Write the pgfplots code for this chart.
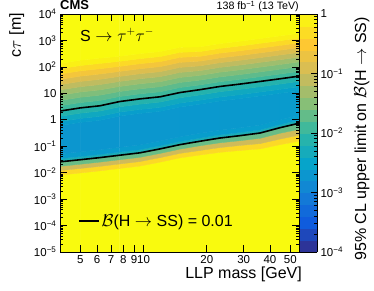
\documentclass[border=0pt]{standalone}
\usepackage{fontspec}
\setmainfont{Liberation Sans}
\usepackage{pgfplots}
\pgfplotsset{compat=1.18}
% Limit map: m = LLP mass [GeV], lct = log10(c tau / m), v = log10(95% CL limit on B(H->SS))
\pgfplotstableread{
m lct v
4.0 -5 0
4.0 -2.09 0
4.0 -1.92 -0.67
4.0 -1.76 -1.33
4.0 -1.59 -2
4.0 -1.47 -2.5
4.0 -1.29 -2.72
4.0 -0.22 -2.68
4.0 -0.07 -2.5
4.0 0.13 -2.25
4.0 0.33 -2
4.0 0.53 -1.82
4.0 0.73 -1.64
4.0 0.93 -1.45
4.0 1.13 -1.24
4.0 1.33 -1.00
4.0 1.53 -0.74
4.0 1.73 -0.47
4.0 1.93 -0.20
4.0 2.13 0
4.0 4 0
5.0 -5 0
5.0 -2.01 0
5.0 -1.84 -0.67
5.0 -1.68 -1.33
5.0 -1.51 -2
5.0 -1.39 -2.5
5.0 -1.21 -2.72
5.0 -0.10 -2.68
5.0 0.05 -2.5
5.0 0.25 -2.25
5.0 0.45 -2
5.0 0.65 -1.82
5.0 0.85 -1.64
5.0 1.05 -1.45
5.0 1.25 -1.24
5.0 1.45 -1.00
5.0 1.65 -0.74
5.0 1.85 -0.47
5.0 2.05 -0.20
5.0 2.25 0
5.0 4 0
6.2 -5 0
6.2 -1.93 0
6.2 -1.76 -0.67
6.2 -1.60 -1.33
6.2 -1.43 -2
6.2 -1.31 -2.5
6.2 -1.13 -2.71
6.2 -0.02 -2.67
6.2 0.13 -2.5
6.2 0.33 -2.25
6.2 0.53 -2
6.2 0.73 -1.82
6.2 0.93 -1.64
6.2 1.13 -1.45
6.2 1.33 -1.24
6.2 1.53 -1.00
6.2 1.73 -0.74
6.2 1.93 -0.47
6.2 2.13 -0.20
6.2 2.33 0
6.2 4 0
7.7 -5 0
7.7 -1.84 0
7.7 -1.67 -0.67
7.7 -1.51 -1.33
7.7 -1.34 -2
7.7 -1.22 -2.5
7.7 -1.04 -2.71
7.7 0.14 -2.67
7.7 0.29 -2.5
7.7 0.49 -2.25
7.7 0.69 -2
7.7 0.88 -1.82
7.7 1.07 -1.64
7.7 1.26 -1.45
7.7 1.45 -1.24
7.7 1.64 -1.00
7.7 1.83 -0.74
7.7 2.02 -0.47
7.7 2.21 -0.20
7.7 2.40 0
7.7 4 0
9.6 -5 0
9.6 -1.75 0
9.6 -1.58 -0.67
9.6 -1.42 -1.33
9.6 -1.25 -2
9.6 -1.13 -2.5
9.6 -0.95 -2.70
9.6 0.24 -2.66
9.6 0.39 -2.5
9.6 0.59 -2.25
9.6 0.79 -2
9.6 0.98 -1.82
9.6 1.17 -1.64
9.6 1.36 -1.45
9.6 1.55 -1.24
9.6 1.74 -1.00
9.6 1.93 -0.74
9.6 2.12 -0.47
9.6 2.31 -0.20
9.6 2.50 0
9.6 4 0
12.0 -5 0
12.0 -1.60 0
12.0 -1.43 -0.67
12.0 -1.27 -1.33
12.0 -1.10 -2
12.0 -0.98 -2.5
12.0 -0.80 -2.69
12.0 0.32 -2.65
12.0 0.47 -2.5
12.0 0.67 -2.25
12.0 0.87 -2
12.0 1.06 -1.82
12.0 1.25 -1.64
12.0 1.44 -1.45
12.0 1.63 -1.24
12.0 1.82 -1.00
12.0 2.01 -0.74
12.0 2.20 -0.47
12.0 2.39 -0.20
12.0 2.58 0
12.0 4 0
14.9 -5 0
14.9 -1.44 0
14.9 -1.27 -0.67
14.9 -1.11 -1.33
14.9 -0.94 -2
14.9 -0.82 -2.5
14.9 -0.64 -2.68
14.9 0.48 -2.64
14.9 0.63 -2.5
14.9 0.83 -2.25
14.9 1.03 -2
14.9 1.22 -1.82
14.9 1.41 -1.64
14.9 1.60 -1.45
14.9 1.79 -1.24
14.9 1.98 -1.00
14.9 2.17 -0.74
14.9 2.36 -0.47
14.9 2.55 -0.20
14.9 2.74 0
14.9 4 0
18.6 -5 0
18.6 -1.33 0
18.6 -1.16 -0.67
18.6 -0.98 -1.33
18.6 -0.81 -2
18.6 -0.69 -2.5
18.6 -0.51 -2.68
18.6 0.59 -2.64
18.6 0.74 -2.5
18.6 0.94 -2.25
18.6 1.14 -2
18.6 1.32 -1.82
18.6 1.50 -1.64
18.6 1.68 -1.45
18.6 1.86 -1.24
18.6 2.04 -1.00
18.6 2.22 -0.74
18.6 2.40 -0.47
18.6 2.58 -0.20
18.6 2.76 0
18.6 4 0
23.1 -5 0
23.1 -1.23 0
23.1 -1.05 -0.67
23.1 -0.87 -1.33
23.1 -0.69 -2
23.1 -0.57 -2.5
23.1 -0.39 -2.67
23.1 0.71 -2.63
23.1 0.86 -2.5
23.1 1.06 -2.25
23.1 1.26 -2
23.1 1.44 -1.82
23.1 1.62 -1.64
23.1 1.80 -1.45
23.1 1.98 -1.24
23.1 2.16 -1.00
23.1 2.34 -0.74
23.1 2.52 -0.47
23.1 2.70 -0.20
23.1 2.88 0
23.1 4 0
28.8 -5 0
28.8 -1.16 0
28.8 -0.97 -0.67
28.8 -0.79 -1.33
28.8 -0.60 -2
28.8 -0.48 -2.5
28.8 -0.30 -2.66
28.8 0.80 -2.62
28.8 0.95 -2.5
28.8 1.15 -2.25
28.8 1.35 -2
28.8 1.53 -1.82
28.8 1.71 -1.64
28.8 1.89 -1.45
28.8 2.07 -1.24
28.8 2.25 -1.00
28.8 2.43 -0.74
28.8 2.61 -0.47
28.8 2.79 -0.20
28.8 2.97 0
28.8 4 0
35.9 -5 0
35.9 -1.10 0
35.9 -0.90 -0.67
35.9 -0.70 -1.33
35.9 -0.50 -2
35.9 -0.38 -2.5
35.9 -0.20 -2.65
35.9 0.90 -2.61
35.9 1.05 -2.5
35.9 1.25 -2.25
35.9 1.45 -2
35.9 1.63 -1.82
35.9 1.81 -1.64
35.9 1.99 -1.45
35.9 2.17 -1.24
35.9 2.35 -1.00
35.9 2.53 -0.74
35.9 2.71 -0.47
35.9 2.89 -0.20
35.9 3.07 0
35.9 4 0
44.6 -5 0
44.6 -0.94 0
44.6 -0.73 -0.67
44.6 -0.51 -1.33
44.6 -0.30 -2
44.6 -0.18 -2.5
44.6 0.00 -2.65
44.6 1.00 -2.61
44.6 1.15 -2.5
44.6 1.35 -2.25
44.6 1.55 -2
44.6 1.73 -1.82
44.6 1.91 -1.64
44.6 2.09 -1.45
44.6 2.27 -1.24
44.6 2.45 -1.00
44.6 2.63 -0.74
44.6 2.81 -0.47
44.6 2.99 -0.20
44.6 3.17 0
44.6 4 0
55 -5 0
55 -0.81 0
55 -0.58 -0.67
55 -0.36 -1.33
55 -0.13 -2
55 -0.01 -2.5
55 0.17 -2.64
55 1.10 -2.60
55 1.25 -2.5
55 1.45 -2.25
55 1.65 -2
55 1.83 -1.82
55 2.01 -1.64
55 2.19 -1.45
55 2.37 -1.24
55 2.55 -1.00
55 2.73 -0.74
55 2.91 -0.47
55 3.09 -0.20
55 3.27 0
55 4 0
}\limitmap
% Contour B = 0.01 (log10 c tau), closed along the left edge
\pgfplotstableread{
m lct
55 -0.13
44.6 -0.30
35.9 -0.50
28.8 -0.60
23.1 -0.69
18.6 -0.81
14.9 -0.94
12.0 -1.10
9.6 -1.25
7.7 -1.34
6.2 -1.43
5.0 -1.51
4.0 -1.59
4.0 0.33
5.0 0.45
6.2 0.53
7.7 0.69
9.6 0.79
12.0 0.87
14.9 1.03
18.6 1.14
23.1 1.26
28.8 1.35
35.9 1.45
44.6 1.55
55 1.65
}\contour
\begin{document}
\begin{tikzpicture}
\path[use as bounding box] (0pt,0pt) rectangle (374pt,290pt);
\begin{axis}[
  at={(60pt,38pt)}, anchor=south west,
  scale only axis, width=239pt, height=238pt,
  xmode=log,
  xmin=4, xmax=55, ymin=-5, ymax=4,
  axis on top,
  xtick={5,6,7,8,9,10,20,30,40,50},
  xticklabels={5,6,7,8,9,10,20,30,40,50},
  minor xtick={},
  ytick={-5,-4,-3,-2,-1,0,1,2,3,4},
  yticklabels={10\textsuperscript{−5},10\textsuperscript{−4},10\textsuperscript{−3},10\textsuperscript{−2},10\textsuperscript{−1},1,10,10\textsuperscript{2},10\textsuperscript{3},10\textsuperscript{4}},
  minor ytick={-4.699,-4.523,-4.398,-4.301,-4.222,-4.155,-4.097,-4.046,
    -3.699,-3.523,-3.398,-3.301,-3.222,-3.155,-3.097,-3.046,
    -2.699,-2.523,-2.398,-2.301,-2.222,-2.155,-2.097,-2.046,
    -1.699,-1.523,-1.398,-1.301,-1.222,-1.155,-1.097,-1.046,
    -0.699,-0.523,-0.398,-0.301,-0.222,-0.155,-0.097,-0.046,
    0.301,0.477,0.602,0.699,0.778,0.845,0.903,0.954,
    1.301,1.477,1.602,1.699,1.778,1.845,1.903,1.954,
    2.301,2.477,2.602,2.699,2.778,2.845,2.903,2.954,
    3.301,3.477,3.602,3.699,3.778,3.845,3.903,3.954},
  tick align=inside,
  major tick length=7pt, minor tick length=3.5pt,
  tick style={black, line width=0.6pt},
  axis line style={line width=0.8pt},
  ticklabel style={font=\fontsize{11.5}{13}\selectfont},
  colormap={kbird}{rgb=(0.2082,0.1664,0.5293) rgb=(0.0592,0.3599,0.8684)
    rgb=(0.0780,0.5041,0.8385) rgb=(0.0232,0.6419,0.7914)
    rgb=(0.1802,0.7178,0.6425) rgb=(0.5301,0.7492,0.4662)
    rgb=(0.8186,0.7328,0.3499) rgb=(0.9956,0.7862,0.1968)
    rgb=(0.9764,0.9832,0.0539)},
  point meta min=-4, point meta max=0,
  colorbar sampled,
  colorbar style={
    samples=21,
    at={(1,1)}, anchor=north west, xshift=1pt,
    scale only axis, width=18pt, height=238pt,
    ytick={-4,-3,-2,-1,0},
    yticklabels={10\textsuperscript{−4},10\textsuperscript{−3},10\textsuperscript{−2},10\textsuperscript{−1},1},
    minor ytick={-3.699,-3.523,-3.398,-3.301,-3.222,-3.155,-3.097,-3.046,
      -2.699,-2.523,-2.398,-2.301,-2.222,-2.155,-2.097,-2.046,
      -1.699,-1.523,-1.398,-1.301,-1.222,-1.155,-1.097,-1.046,
      -0.699,-0.523,-0.398,-0.301,-0.222,-0.155,-0.097,-0.046},
    ytick pos=right, yticklabel pos=right,
    tick align=inside,
    major tick length=6pt, minor tick length=3pt,
    tick style={black, line width=0.6pt},
    axis line style={line width=0.6pt},
    yticklabel style={font=\fontsize{11.5}{13}\selectfont},
    every axis plot post/.append style={shader=faceted, faceted color=mapped color, line width=0.4pt},
  },
  legend style={at={(axis description cs:0.075,0.130)}, anchor=west,
    draw=none, fill=none, inner sep=0pt, font=\fontsize{16}{18}\selectfont},
  legend cell align=left,
  legend image code/.code={\draw[#1] (0pt,0pt) -- (20pt,0pt);},
]
\addplot[surf, shader=faceted, faceted color=mapped color, line width=0.4pt,
  mesh/cols=21, point meta=\thisrow{v}, forget plot]
  table[x=m, y=lct] {\limitmap};
\addplot[black, line width=1.6pt] table[x=m, y=lct] {\contour};
\addlegendentry{$\mathcal{B}$(H $\rightarrow$ SS) = 0.01}
\end{axis}
\node[anchor=base west, inner sep=0pt, font=\fontsize{16}{18}\selectfont] at (80pt,249pt) {S $\rightarrow \tau^{+}\tau^{-}$};
\node[anchor=base west, inner sep=0pt, font=\bfseries\fontsize{13}{15}\selectfont] at (60pt,280.5pt) {CMS};
\node[anchor=base east, inner sep=0pt, font=\fontsize{10.7}{12}\selectfont] at (299pt,280pt) {138 fb\textsuperscript{−1} (13 TeV)};
\node[anchor=north east, inner sep=0pt, font=\fontsize{16}{18}\selectfont] at (302pt,23pt) {LLP mass [GeV]};
\node[rotate=90, anchor=north east, inner sep=0pt, font=\fontsize{16}{18}\selectfont] at (9pt,277pt) {c$\tau$ [m]};
\node[rotate=90, anchor=north east, inner sep=0pt, font=\fontsize{16}{18}\selectfont] at (354pt,273pt) {95\% CL upper limit on $\mathcal{B}$(H $\rightarrow$ SS)};
\end{tikzpicture}
\end{document}
